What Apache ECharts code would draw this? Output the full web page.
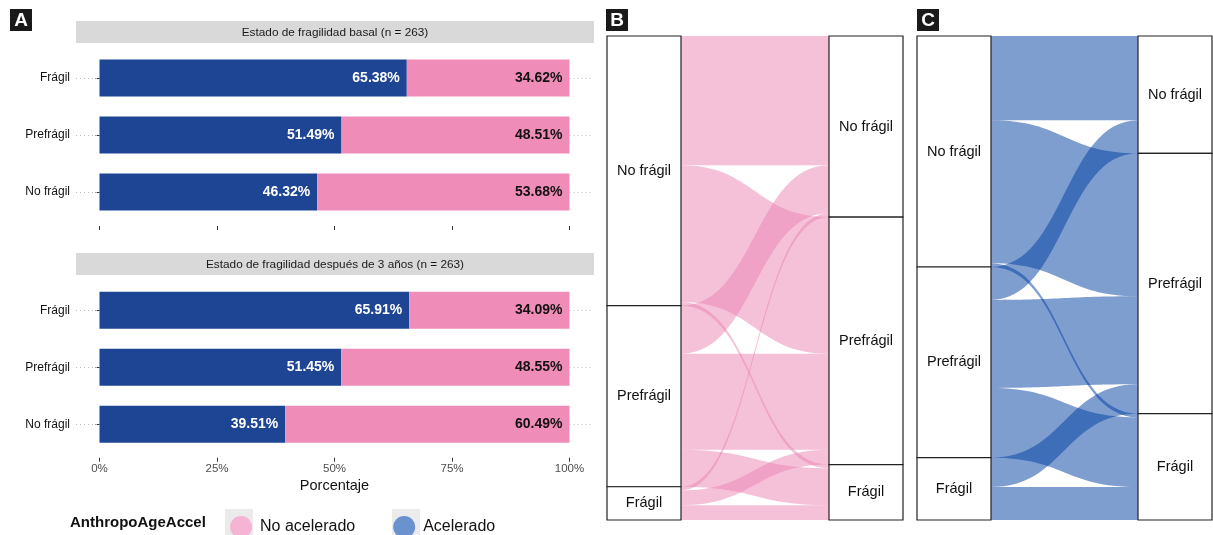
<!DOCTYPE html>
<html>
<head>
<meta charset="utf-8">
<script src="https://cdn.jsdelivr.net/npm/echarts@6/dist/echarts.min.js"></script>
<style>
  html, body { margin: 0; padding: 0; background: #ffffff; }
  #main { width: 1213px; height: 535px; }
</style>
</head>
<body>
<div id="main"></div>
<script>
// Frailty states (bar axis: bottom → top; alluvial strata: top → bottom)
const frailtyLevels = ['No frágil', 'Prefrágil', 'Frágil'];

// Panel A: percentage of each AnthropoAgeAccel group within each frailty state
const basalAccel    = [46.32, 51.49, 65.38];
const basalNoAccel  = [53.68, 48.51, 34.62];
const year3Accel    = [39.51, 51.45, 65.91];
const year3NoAccel  = [60.49, 48.55, 34.09];
const xTicks = [0, 25, 50, 75, 100];

const stripTitles = [
  'Estado de fragilidad basal (n = 263)',
  'Estado de fragilidad después de 3 años (n = 263)'
];

// Panels B and C: counts moving from basal state (rows) to state after 3 years (columns)
const flowsNoAccel = [
  [35, 37, 1],
  [13, 26, 10],
  [1, 4, 4]
];
const flowsAccel = [
  [23, 39, 1],
  [9, 24, 19],
  [0, 8, 9]
];

const FONT = '"Liberation Sans", Arial, Helvetica, sans-serif';
const BLUE = '#1D4594';
const PINK = '#F08CB8';

const chart = echarts.init(document.getElementById('main'), null, { renderer: 'canvas' });

function buildAlluvium(flows) {
  const nodes = [];
  frailtyLevels.forEach(l => nodes.push({ name: 'basal|' + l }));
  frailtyLevels.forEach(l => nodes.push({ name: '3a|' + l }));
  const links = [];
  flows.forEach((row, i) => row.forEach((v, j) => {
    if (v > 0) links.push({ source: 'basal|' + frailtyLevels[i], target: '3a|' + frailtyLevels[j], value: v });
  }));
  return { nodes, links };
}

function alluvialSeries(flows, left, width, flowColor) {
  const d = buildAlluvium(flows);
  return {
    type: 'sankey',
    left: left, top: 36, width: width, height: 484,
    nodeWidth: 74,
    nodeGap: 0,
    layoutIterations: 0,
    draggable: false,
    emphasis: { disabled: true },
    data: d.nodes,
    links: d.links,
    itemStyle: { color: '#ffffff', borderColor: '#222222', borderWidth: 1.2 },
    lineStyle: { color: flowColor, opacity: 0.5, curveness: 0.5 },
    label: {
      show: true, position: 'inside', color: '#111111',
      fontFamily: FONT, fontSize: 14.5,
      formatter: p => p.name.split('|')[1]
    }
  };
}

function gridLineMarks() {
  const data = [];
  frailtyLevels.forEach(l => {
    data.push([{ coord: [-5, l] }, { coord: [0, l] }]);
    data.push([{ coord: [100, l] }, { coord: [105, l] }]);
  });
  return {
    silent: true, symbol: ['none', 'none'], label: { show: false },
    lineStyle: { color: '#BDBDBD', type: [1, 3], width: 1 },
    data: data
  };
}

function barPair(idx, accel, noAccel) {
  const lbl = color => ({
    show: true, position: 'insideRight', distance: 7,
    color: color, fontWeight: 'bold', fontSize: 14, fontFamily: FONT,
    formatter: p => p.value.toFixed(2) + '%'
  });
  return [
    {
      type: 'bar', name: 'Acelerado', xAxisIndex: idx, yAxisIndex: idx,
      stack: 'facet' + idx, data: accel, barWidth: 37,
      itemStyle: { color: BLUE }, label: lbl('#ffffff'),
      markLine: gridLineMarks()
    },
    {
      type: 'bar', name: 'No acelerado', xAxisIndex: idx, yAxisIndex: idx,
      stack: 'facet' + idx, data: noAccel, barWidth: 37,
      itemStyle: { color: PINK }, label: lbl('#111111')
    }
  ];
}

function xAxisFor(idx, withLabels, offset) {
  const ax = {
    gridIndex: idx, type: 'value', min: -5, max: 105, offset: offset,
    axisLine: { show: false },
    splitLine: { show: false },
    axisTick: { show: true, length: 4, customValues: xTicks, lineStyle: { color: '#333333' } },
    axisLabel: { show: false }
  };
  if (withLabels) {
    ax.axisLabel = {
      show: true, customValues: xTicks, formatter: v => v + '%',
      color: '#4D4D4D', fontSize: 11.5, fontFamily: FONT, margin: 5
    };
    ax.name = 'Porcentaje';
    ax.nameLocation = 'middle';
    ax.nameGap = 21;
    ax.nameTextStyle = { color: '#111111', fontSize: 14.5, fontFamily: FONT };
  }
  return ax;
}

function yAxisFor(idx) {
  return {
    gridIndex: idx, type: 'category', data: frailtyLevels,
    axisLine: { show: false },
    splitLine: { show: false },
    axisTick: { show: true, length: 4, alignWithLabel: true, lineStyle: { color: '#333333' } },
    axisLabel: { color: '#111111', fontSize: 12, fontFamily: FONT, margin: 6 }
  };
}

function panelLetter(letter, x) {
  return [
    { type: 'rect', shape: { x: x, y: 9, width: 22, height: 22 }, style: { fill: '#1a1a1a' } },
    { type: 'text', x: x + 11, y: 20.5,
      style: { text: letter, fill: '#ffffff', font: 'bold 19px ' + FONT, align: 'center', verticalAlign: 'middle' } }
  ];
}

function strip(y, text) {
  return [
    { type: 'rect', shape: { x: 76, y: y, width: 518, height: 22 }, style: { fill: '#D9D9D9' } },
    { type: 'text', x: 335, y: y + 11.5,
      style: { text: text, fill: '#1a1a1a', font: '11.8px ' + FONT, align: 'center', verticalAlign: 'middle' } }
  ];
}

const option = {
  animation: false,
  backgroundColor: '#ffffff',
  textStyle: { fontFamily: FONT },
  grid: [
    { left: 76, width: 517, top: 49.5, height: 171 },
    { left: 76, width: 517, top: 281.7, height: 171 }
  ],
  xAxis: [xAxisFor(0, false, 5.5), xAxisFor(1, true, 5)],
  yAxis: [yAxisFor(0), yAxisFor(1)],
  legend: {
    left: 225, top: 511,
    selectedMode: false,
    icon: 'circle',
    itemWidth: 28, itemHeight: 22, itemGap: 38,
    textStyle: { color: '#111111', fontSize: 16, fontFamily: FONT },
    data: [
      { name: 'No acelerado', itemStyle: { color: '#F5B4D2' } },
      { name: 'Acelerado', itemStyle: { color: '#6A92CF' } }
    ]
  },
  graphic: [
    ...panelLetter('A', 10),
    ...panelLetter('B', 606),
    ...panelLetter('C', 917),
    ...strip(21, stripTitles[0]),
    ...strip(253, stripTitles[1]),
    { type: 'rect', z: -1, shape: { x: 225, y: 509, width: 28, height: 28 }, style: { fill: '#EBEBEB' } },
    { type: 'rect', z: -1, shape: { x: 392, y: 509, width: 28, height: 28 }, style: { fill: '#EBEBEB' } },
    { type: 'text', x: 70, y: 523,
      style: { text: 'AnthropoAgeAccel', fill: '#111111', font: 'bold 15px ' + FONT, verticalAlign: 'middle' } }
  ],
  series: [
    ...barPair(0, basalAccel, basalNoAccel),
    ...barPair(1, year3Accel, year3NoAccel),
    alluvialSeries(flowsNoAccel, 607, 296, '#E983B1'),
    alluvialSeries(flowsAccel, 917, 295, '#003DA1')
  ]
};

chart.setOption(option);
</script>
</body>
</html>
